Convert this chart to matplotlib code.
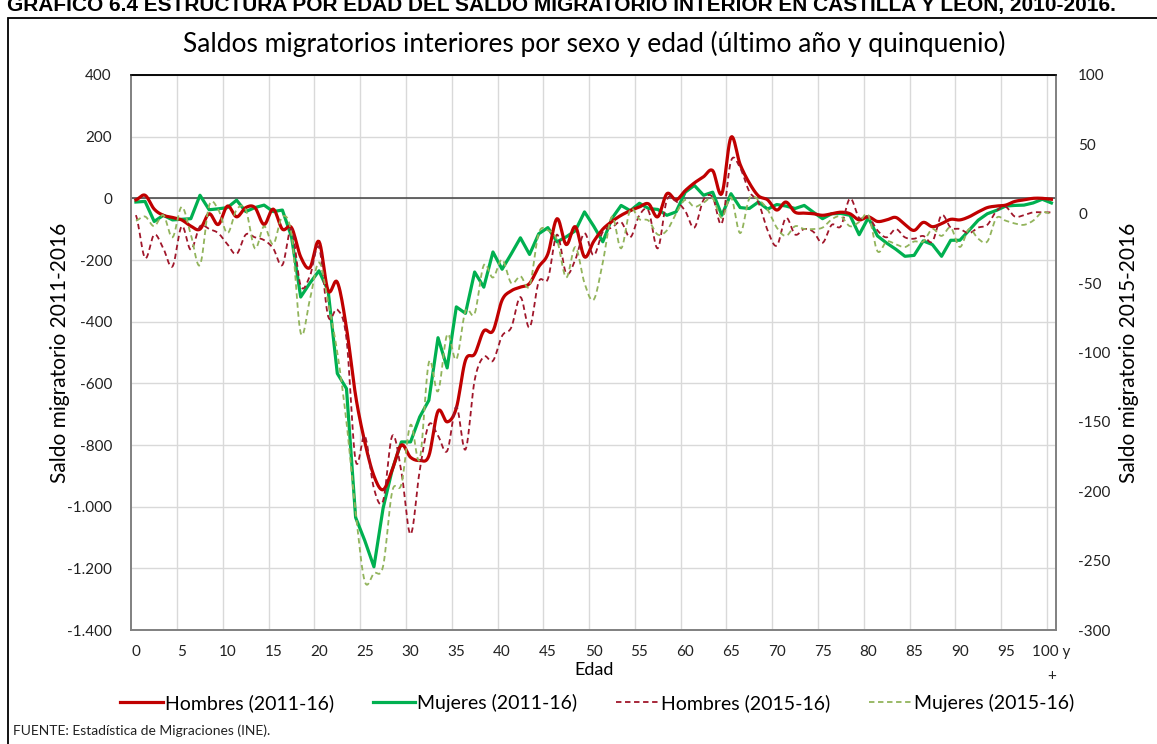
import matplotlib
matplotlib.use("Agg")
import matplotlib.pyplot as plt
import numpy as np
from matplotlib.ticker import FuncFormatter, FixedLocator
from matplotlib.patches import Rectangle

plt.rcParams['font.family'] = ['Lato', 'DejaVu Sans']
plt.rcParams['axes.unicode_minus'] = False

# Edades 0..100 (100 = "100 y +")
edad = list(range(0, 101))

# Saldo migratorio 2011-2016 (eje izquierdo)
hombres_11_16 = [
    -5, 10, -35, -55, -62, -70, -90, -100, -50, -85,
    -25, -60, -30, -30, -85, -35, -100, -95, -190, -225,
    -140, -300, -272, -420, -640, -790, -900, -945, -880, -800,
    -840, -850, -835, -690, -725, -680, -525, -505, -430, -430,
    -330, -300, -288, -276, -222, -180, -66, -150, -92, -190,
    -140, -100, -75, -55, -40, -28, -18, -60, 15, -5,
    25, 50, 70, 90, 15, 198, 110, 50, 8, -5,
    -38, -12, -45, -48, -50, -55, -50, -45, -50, -70,
    -60, -75, -70, -62, -85, -104, -78, -92, -82, -68,
    -70, -60, -44, -30, -25, -22, -10, -5, 0, 0,
    -3,
]
mujeres_11_16 = [
    -12, -10, -75, -55, -70, -68, -66, 10, -37, -34,
    -30, -6, -43, -30, -22, -43, -38, -125, -320, -275,
    -235, -300, -568, -617, -1035, -1110, -1195, -1005, -880, -790,
    -790, -709, -655, -452, -550, -352, -373, -239, -288, -174,
    -230, -180, -128, -182, -115, -95, -141, -125, -105, -44,
    -90, -141, -65, -23, -40, -16, -33, -36, -55, -44,
    20, 42, 10, 20, -55, 15, -30, -33, -12, -35,
    -20, -25, -33, -23, -45, -66, -50, -49, -55, -118,
    -63, -122, -145, -165, -188, -185, -138, -150, -188, -136,
    -136, -104, -71, -50, -39, -25, -23, -22, -15, -3,
    -15,
]

# Saldo migratorio 2015-2016 (eje derecho)
hombres_15_16 = [
    -1, -32, -15, -25, -38, -9, -26, -9, -11, -14,
    -22, -29, -15, -17, -19, -25, -37, -11, -52, -45,
    -24, -74, -69, -90, -178, -160, -198, -207, -160, -186,
    -231, -185, -152, -160, -171, -139, -170, -120, -103, -106,
    -88, -82, -60, -82, -49, -47, -15, -43, -33, -14,
    -30, -13, -10, -6, -17, -1, 2, -25, 10, 9,
    2, -10, 10, 12, -7, 38, 33, 16, 8, -12,
    -23, -3, -15, -11, -13, -21, -8, -9, 11, -3,
    -2, -12, -17, -11, -17, -18, -16, -20, -1, -10,
    -11, -14, -10, -8, 2, 5, -2, -1, 1, 1,
    1,
]
mujeres_15_16 = [
    -5, -2, -9, -1, -17, 5, -15, -37, 6, 3,
    -14, 3, 3, -25, -9, -22, -2, -15, -86, -62,
    -35, -64, -100, -150, -215, -265, -259, -254, -200, -195,
    -152, -177, -107, -128, -87, -105, -70, -72, -37, -46,
    -33, -50, -45, -52, -14, -12, -19, -46, -24, -50,
    -62, -35, -2, -25, 3, -4, -5, -15, -12, 0,
    10, 5, 8, 11, -3, 12, -14, 11, 10, 3,
    -10, -16, -9, -11, -11, -10, -4, -2, -9, -6,
    -1, -27, -20, -22, -24, -20, -20, -11, -16, -10,
    -24, -11, -18, -20, -3, -5, -7, -8, -5, 1,
    0,
]

x_ticks = list(range(0, 101, 5))
x_labels = [str(v) for v in range(0, 100, 5)] + ["100 y\n+"]


def smooth(x, y, n=10):
    # suavizado tipo Excel (Catmull-Rom) solo para dibujar
    x = np.asarray(x, float)
    y = np.asarray(y, float)
    xs, ys = [], []
    for i in range(len(x) - 1):
        y0 = y[i - 1] if i > 0 else y[i]
        y3 = y[i + 2] if i + 2 < len(y) else y[i + 1]
        y1, y2 = y[i], y[i + 1]
        t = np.linspace(0, 1, n, endpoint=False)
        yy = 0.5 * ((2 * y1) + (-y0 + y2) * t + (2 * y0 - 5 * y1 + 4 * y2 - y3) * t ** 2
                    + (-y0 + 3 * y1 - 3 * y2 + y3) * t ** 3)
        xs.append(x[i] + (x[i + 1] - x[i]) * t)
        ys.append(yy)
    xs.append([x[-1]])
    ys.append([y[-1]])
    return np.concatenate(xs), np.concatenate(ys)


c_h = '#C00000'
c_m = '#00B050'
c_h2 = '#A0162A'
c_m2 = '#92B45C'

fig = plt.figure(figsize=(11.57, 7.44), dpi=100)
ax = fig.add_axes([0.1135, 0.1532, 0.7992, 0.746])
ax2 = ax.twinx()

ax.plot(*smooth(edad, hombres_11_16), color=c_h, lw=2.3, label='Hombres (2011-16)', zorder=4)
ax.plot(edad, mujeres_11_16, color=c_m, lw=2.3, label='Mujeres (2011-16)', zorder=3)
ax2.plot(*smooth(edad, hombres_15_16), color=c_h2, lw=1.3, ls=(0, (3, 2)), label='Hombres (2015-16)')
ax2.plot(*smooth(edad, mujeres_15_16), color=c_m2, lw=1.3, ls=(0, (3, 2)), label='Mujeres (2015-16)')

ax.set_xlim(-0.5, 100.5)
ax.set_ylim(-1400, 400)
ax2.set_ylim(-300, 100)
ax.set_yticks(range(-1400, 401, 200))
ax2.set_yticks(range(-300, 101, 50))
ax.yaxis.set_major_formatter(FuncFormatter(lambda v, p: f"{v:,.0f}".replace(',', '.')))
ax.set_xticks(x_ticks)
ax.set_xticklabels(x_labels, va='top', linespacing=1.9)
ax.xaxis.set_minor_locator(FixedLocator(np.arange(4.5, 100, 5)))

ax.grid(True, which='minor', axis='x', color='#D9D9D9', lw=1)
ax.grid(True, which='major', axis='y', color='#D9D9D9', lw=1)
ax.grid(False, which='major', axis='x')
ax.set_axisbelow(True)
ax.axhline(0, color='#404040', lw=1.1, zorder=2)

for a in (ax, ax2):
    a.tick_params(length=0, labelsize=11, colors='#222222')
    a.tick_params(which='minor', length=0)
    for s in ('left', 'right', 'bottom'):
        a.spines[s].set_color('#808080')
        a.spines[s].set_linewidth(1.2)
    a.spines['top'].set_color('#000000')
    a.spines['top'].set_linewidth(1.1)
ax.tick_params(axis='y', pad=14)
ax2.tick_params(axis='y', pad=16)
ax.tick_params(axis='x', pad=11)

ax.set_ylabel('Saldo migratorio 2011-2016', fontsize=15, labelpad=-2)
ax2.set_ylabel('Saldo migratorio 2015-2016', fontsize=15, labelpad=6)
ax.set_xlabel('Edad', fontsize=13, labelpad=-15)

fig.text(0.514, 0.941, 'Saldos migratorios interiores por sexo y edad (último año y quinquenio)',
         ha='center', va='center', fontsize=19)
fig.text(0.006, 1 - 11 / 744, 'GRÁFICO 6.4 ESTRUCTURA POR EDAD DEL SALDO MIGRATORIO INTERIOR EN CASTILLA Y LEÓN, 2010-2016.',
         ha='left', va='baseline', fontsize=15, fontweight='bold', family=['Liberation Sans'])
fig.text(0.011, 1 - 731 / 744, 'FUENTE: Estadística de Migraciones (INE).', ha='left', va='center',
         fontsize=10, color='#222222')

fig.patches.append(Rectangle((8 / 1157, -0.05), 1.2, 1 - 18 / 744 + 0.05, transform=fig.transFigure,
                             fill=False, edgecolor='black', lw=1.3))

h1, l1 = ax.get_legend_handles_labels()
h2, l2 = ax2.get_legend_handles_labels()
fig.legend(h1 + h2, l1 + l2, loc='center', bbox_to_anchor=(0.516, 1 - 703 / 744), ncol=4,
           frameon=False, fontsize=14, handlelength=2.2, handletextpad=0.1, columnspacing=2.0)

fig.savefig('out.png', dpi=100)
